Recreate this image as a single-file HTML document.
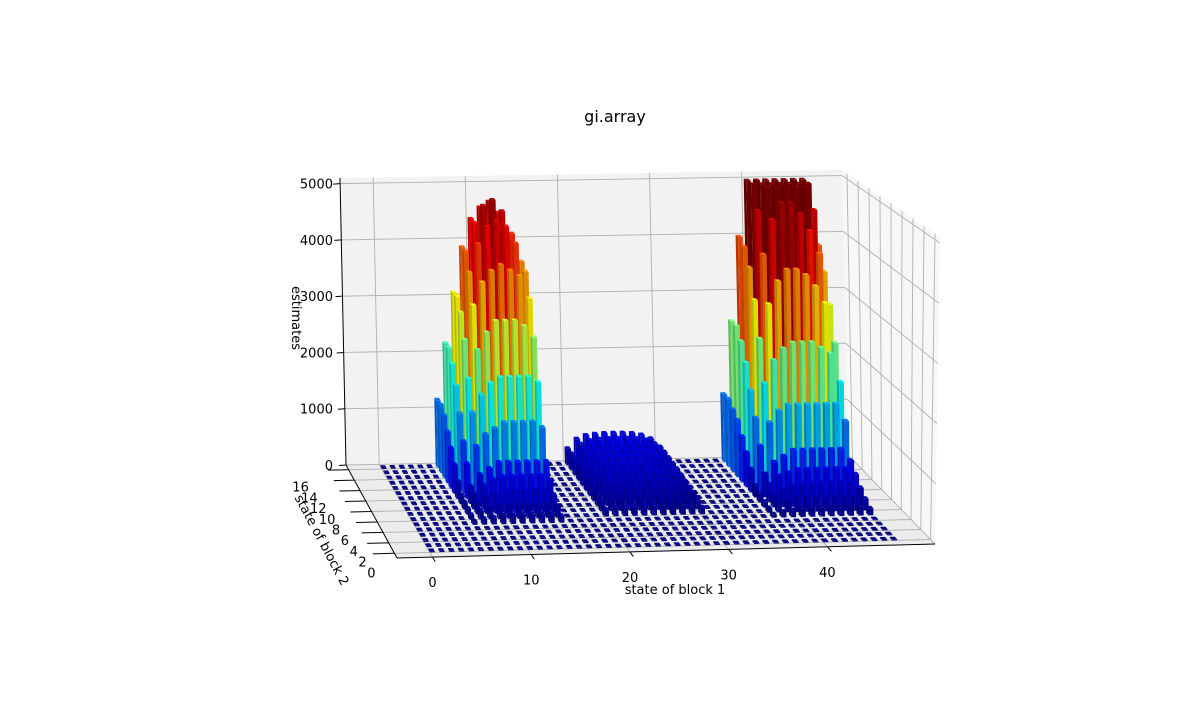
<!DOCTYPE html>
<html><head><meta charset="utf-8"><style>
html,body{margin:0;padding:0;background:#fff;}
svg{display:block;font-family:"DejaVu Sans","Liberation Sans",sans-serif;}
</style></head><body>
<svg id="chart" width="1200" height="719" viewBox="0 0 1200 719" xmlns="http://www.w3.org/2000/svg">
<text x="615" y="122" font-size="16" text-anchor="middle">gi.array</text>
<g id="panes"></g>
<g id="grid"></g>
<g id="axes"></g>
<g id="bars"></g>
<text x="675" y="594" font-size="13" text-anchor="middle">state of block 1</text>
<text transform="translate(318,542) rotate(62)" font-size="13" text-anchor="middle">state of block 2</text>
<text transform="translate(292,318) rotate(90)" font-size="13" text-anchor="middle">estimates</text>
</svg>
<script>
const xTicks=[0,10,20,30,40];
const yTicks=[0,2,4,6,8,10,12,14,16];
const zTicks=[0,1000,2000,3000,4000,5000];
const nX=48, nY=17, baseValue=20;
const leftPeakX0=6, leftPeakY0=5;
const leftPeak=[
[60,100,120,150,150,150,150,150,150,120],
[80,150,200,250,250,250,250,250,250,200],
[100,200,300,350,400,400,400,400,400,300],
[120,250,400,500,550,550,550,550,550,450],
[150,300,500,600,700,700,700,700,700,700],
[300,600,900,1100,1200,1300,1300,1300,1300,1200],
[500,900,1400,1700,1900,2000,2000,2000,2000,1900],
[700,1300,1900,2400,2700,2900,2900,2900,2800,2600],
[900,1700,2500,3100,3500,3700,3800,3700,3600,3200],
[1100,2000,2900,3600,4100,4400,4500,4400,4100,3600],
[1200,2200,3100,3900,4400,4700,4800,4600,4200,3700],
[1200,2200,3100,3900,4400,4600,4700,4500,4000,3500]];
const rightPeakX0=37, rightPeakY0=5;
const rightPeak=[
[60,100,120,150,150,150,150,150,150,150,120],
[80,150,200,250,250,250,250,250,250,250,200],
[100,200,300,350,400,400,400,400,400,400,300],
[150,300,450,500,550,550,550,550,550,550,450],
[200,400,600,700,800,800,800,800,800,800,600],
[400,800,1200,1400,1500,1500,1500,1500,1500,1500,1200],
[600,1200,1800,2200,2400,2500,2500,2500,2400,2300,1800],
[800,1600,2500,3100,3500,3700,3700,3600,3400,3100,2400],
[1000,2000,3100,3900,4500,4800,4800,4600,4300,3900,3000],
[1100,2300,3600,4600,5000,5000,5000,5000,5000,4600,3500],
[1200,2500,3900,5000,5000,5000,5000,5000,5000,5000,3900],
[1200,2500,4000,5000,5000,5000,5000,5000,5000,5000,4000]];
const midX0=20, midY0=6;
const midBlock=[
[120,150,150,160,160,160,160,150,150,140,120],
[150,200,200,220,220,220,220,210,200,180,150],
[180,250,260,280,280,280,280,270,260,230,180],
[200,300,320,340,340,340,340,330,310,280,200],
[220,340,370,390,400,400,400,390,360,320,220],
[240,380,420,440,450,450,450,440,410,360,240],
[260,410,460,480,490,500,490,480,450,390,260],
[270,430,490,510,520,520,520,510,480,410,270],
[280,450,510,530,540,540,540,530,500,430,280],
[290,460,520,540,550,550,550,540,510,440,290],
[290,460,520,540,550,550,550,540,510,440,290]];

const xmin=-3.6,xmax=50.9,ymin=-0.9,ymax=16.9,zmax=5100,cmax=5000;
const FRONT=[[397,558],[935,544],[392,248],[940,237]];
const BACK=[[346,465],[848,455],[340,178],[842,170]];
function lerp(a,b,t){return a+(b-a)*t;}
function plane(c,u,w){const bx=lerp(c[0][0],c[1][0],u),by=lerp(c[0][1],c[1][1],u);const tx=lerp(c[2][0],c[3][0],u),ty=lerp(c[2][1],c[3][1],u);return [lerp(bx,tx,w),lerp(by,ty,w)];}
function P(x,y,z){const u=(x-xmin)/(xmax-xmin),v=(y-ymin)/(ymax-ymin),w=z/zmax;const f=plane(FRONT,u,w),b=plane(BACK,u,w);return [lerp(f[0],b[0],v),lerp(f[1],b[1],v)];}
const NS='http://www.w3.org/2000/svg';
function mk(tag,attrs,parent){const e=document.createElementNS(NS,tag);for(const k in attrs)e.setAttribute(k,attrs[k]);parent.appendChild(e);return e;}
function pts(a){return a.map(p=>p[0].toFixed(1)+','+p[1].toFixed(1)).join(' ');}
function clamp(v){return Math.max(0,Math.min(1,v));}
function jet(t,s){const r=clamp(1.5-Math.abs(4*t-3)),g=clamp(1.5-Math.abs(4*t-2)),b=clamp(1.5-Math.abs(4*t-1));return 'rgb('+Math.round(r*s*255)+','+Math.round(g*s*255)+','+Math.round(b*s*255)+')';}

const est=[];
for(let y=0;y<nY;y++){est.push([]);for(let x=0;x<nX;x++)est[y].push(baseValue);}
function place(arr,x0,y0){arr.forEach((row,j)=>row.forEach((v,i)=>{if(x0+i<nX)est[y0+j][x0+i]=v;}));}
place(midBlock,midX0,midY0);place(leftPeak,leftPeakX0,leftPeakY0);place(rightPeak,rightPeakX0,rightPeakY0);

const panes=document.getElementById('panes'),grid=document.getElementById('grid'),axes=document.getElementById('axes'),bars=document.getElementById('bars');
let el;
el=mk('polygon',{points:pts([P(xmin,ymin,0),P(xmax,ymin,0),P(xmax,ymax,0),P(xmin,ymax,0)]),fill:'#ececec'},panes);


el=mk('polygon',{points:pts([P(xmin,ymax,0),P(xmax,ymax,0),P(xmax,ymax,zmax),P(xmin,ymax,zmax)]),fill:'#f2f2f2'},panes);


el=mk('polygon',{points:pts([P(xmax,ymin,0),P(xmax,ymax,0),P(xmax,ymax,zmax),P(xmax,ymin,zmax)]),fill:'#f7f7f7'},panes);


const gs={stroke:'#b0b0b0','stroke-width':0.9,fill:'none'};
function gline(a,b){const l=mk('line',Object.assign({x1:a[0],y1:a[1],x2:b[0],y2:b[1]},gs),grid);}
xTicks.forEach(x=>{gline(P(x,ymin,0),P(x,ymax,0));gline(P(x,ymax,0),P(x,ymax,zmax));});
yTicks.forEach(y=>{gline(P(xmin,y,0),P(xmax,y,0));gline(P(xmax,y,0),P(xmax,y,zmax));});
zTicks.forEach(z=>{gline(P(xmin,ymax,z),P(xmax,ymax,z));gline(P(xmax,ymax,z),P(xmax,ymin,z));});
function aline(a,b,name,w){const l=mk('line',{x1:a[0],y1:a[1],x2:b[0],y2:b[1],stroke:'#000','stroke-width':w||1},axes);}
aline(P(xmin,ymin,0),P(xmax,ymin,0),'x-axis-line');
aline(P(xmin,ymin,0),P(xmin,ymax,0),'y-axis-line');
aline(P(xmin,ymax,0),P(xmin,ymax,zmax),'z-axis-line');
function txt(s,x,y,anchor,name){const t=mk('text',{x:x,y:y,'font-size':13,'text-anchor':anchor},axes);t.textContent=s;}
xTicks.forEach(x=>{const a=P(x,ymin,0),b=P(x,ymin-0.9,0);aline(a,b,'x-tick');txt(String(x),a[0],a[1]+30,'middle','x-tick-label');});
yTicks.forEach(y=>{const a=P(xmin,y,0),b=P(xmin-2.2,y,0);aline(a,b,'y-tick');const t=y/16;txt(String(y),a[0]+lerp(-23,-48,t),a[1]+lerp(24,22,t),'middle','y-tick-label');});
zTicks.forEach(z=>{const a=P(xmin,ymax,z);aline(a,[a[0]-7,a[1]+0.5],'z-tick');txt(String(z),333,a[1]+5,'end','z-tick-label');});

const dx=0.5,dy=0.5;
for(let y=nY-1;y>=0;y--){
 for(let x=nX-1;x>=0;x--){
  const v=est[y][x],t=v/cmax;
  const g=mk('g',{},bars);
  
  
  const x0=x,x1=x+dx,y0=y,y1=y+dy;
  mk('polygon',{points:pts([P(x0,y0,0),P(x0,y1,0),P(x0,y1,v),P(x0,y0,v)]),fill:jet(t,0.72)},g);
  mk('polygon',{points:pts([P(x0,y0,0),P(x1,y0,0),P(x1,y0,v),P(x0,y0,v)]),fill:jet(t,0.88)},g);
  mk('polygon',{points:pts([P(x0,y0,v),P(x1,y0,v),P(x1,y1,v),P(x0,y1,v)]),fill:jet(t,1)},g);
 }
}
</script>
</body></html>
